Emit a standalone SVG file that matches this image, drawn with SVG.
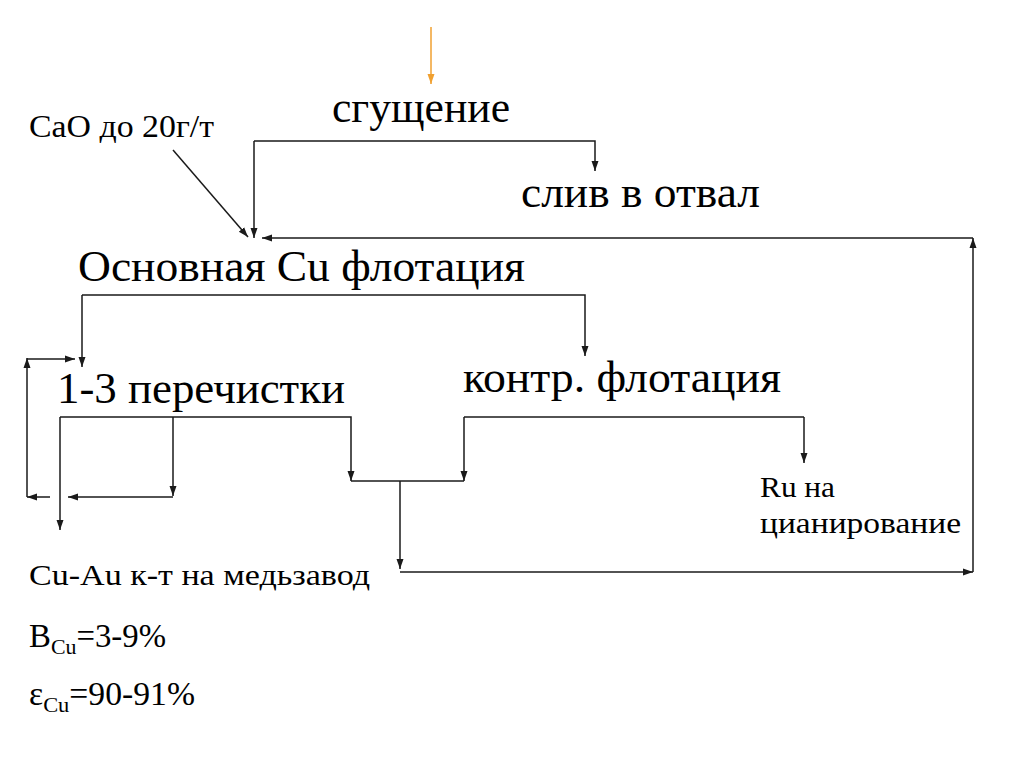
<svg xmlns="http://www.w3.org/2000/svg" width="1024" height="767" viewBox="0 0 1024 767">
<style>
.t{font-family:"Liberation Serif","Times New Roman",serif;fill:#000}
.big{font-size:44px}
.mid{font-size:30px}
.eq{font-size:33px}
.sm{font-size:32px}
.sub{font-size:22px}
.c{fill:none;stroke:#1a1a1a;stroke-width:1.5}
</style>
<defs>
<marker id="ah" markerUnits="userSpaceOnUse" markerWidth="10" markerHeight="10" viewBox="0 0 10 10" refX="10" refY="5" orient="auto">
<path d="M0,1.5 L10,5 L0,8.5 Z" fill="#1a1a1a"/>
</marker>
<marker id="ao" markerUnits="userSpaceOnUse" markerWidth="10" markerHeight="10" viewBox="0 0 10 10" refX="10" refY="5" orient="auto">
<path d="M0,1.5 L10,5 L0,8.5 Z" fill="#f0a030"/>
</marker>
</defs>
<rect width="1024" height="767" fill="#fff"/>

<g id="connectors">
<line x1="431" y1="27" x2="431" y2="84" stroke="#f0a030" stroke-width="1.5" marker-end="url(#ao)"/>
<polyline class="c" points="254,141 595,141 595,171" marker-end="url(#ah)"/>
<line class="c" x1="254" y1="141" x2="254" y2="238" marker-end="url(#ah)"/>
<line class="c" x1="173" y1="150" x2="248" y2="237" marker-end="url(#ah)"/>
<polyline class="c" points="400,572 973,572" marker-end="url(#ah)"/>
<polyline class="c" points="973,572 973,238" marker-end="url(#ah)"/>
<polyline class="c" points="973,238 262,238" marker-end="url(#ah)"/>
<polyline class="c" points="82,295 585,295 585,356" marker-end="url(#ah)"/>
<line class="c" x1="82" y1="295" x2="82" y2="367" marker-end="url(#ah)"/>
<line class="c" x1="50" y1="497" x2="27" y2="497" marker-end="url(#ah)"/>
<line class="c" x1="27" y1="497" x2="27" y2="358" marker-end="url(#ah)"/>
<line class="c" x1="27" y1="359" x2="75" y2="359" marker-end="url(#ah)"/>
<polyline class="c" points="60,417 351,417 351,481" marker-end="url(#ah)"/>
<line class="c" x1="60" y1="417" x2="60" y2="530" marker-end="url(#ah)"/>
<line class="c" x1="173" y1="417" x2="173" y2="496" marker-end="url(#ah)"/>
<line class="c" x1="173" y1="497" x2="68" y2="497" marker-end="url(#ah)"/>
<line class="c" x1="351" y1="481" x2="464" y2="481"/>
<line class="c" x1="464" y1="417" x2="464" y2="481" marker-end="url(#ah)"/>
<line class="c" x1="464" y1="417" x2="804" y2="417"/>
<line class="c" x1="804" y1="417" x2="804" y2="463" marker-end="url(#ah)"/>
<line class="c" x1="400" y1="481" x2="400" y2="569" marker-end="url(#ah)"/>
</g>

<g id="n-sgushchenie"><text class="t big" x="332" y="122" textLength="178" lengthAdjust="spacingAndGlyphs">сгущение</text></g>
<g id="n-cao"><text class="t sm" x="29" y="137" textLength="185" lengthAdjust="spacingAndGlyphs">CaO до 20г/т</text></g>
<g id="n-sliv"><text class="t big" x="521" y="207" textLength="239" lengthAdjust="spacingAndGlyphs">слив в отвал</text></g>
<g id="n-osnovnaya"><text class="t big" x="78" y="281" textLength="447" lengthAdjust="spacingAndGlyphs">Основная Cu флотация</text></g>
<g id="n-perechistki"><text class="t big" x="57" y="403" textLength="288" lengthAdjust="spacingAndGlyphs">1-3 перечистки</text></g>
<g id="n-kontr"><text class="t big" x="463" y="392" textLength="318" lengthAdjust="spacingAndGlyphs">контр. флотация</text></g>
<g id="n-ru"><text class="t mid" x="760" y="497" textLength="75" lengthAdjust="spacingAndGlyphs">Ru на</text><text class="t mid" x="760" y="533" textLength="201" lengthAdjust="spacingAndGlyphs">цианирование</text></g>
<g id="n-cuau">
<text class="t mid" x="29" y="585" textLength="341" lengthAdjust="spacingAndGlyphs">Cu-Au  к-т на медьзавод</text>
<text class="t eq" x="29" y="647" textLength="137" lengthAdjust="spacingAndGlyphs">B<tspan class="sub" dy="7">Cu</tspan><tspan dy="-7">=3-9%</tspan></text>
<text class="t eq" x="29" y="705" textLength="166" lengthAdjust="spacingAndGlyphs">ε<tspan class="sub" dy="7">Cu</tspan><tspan dy="-7">=90-91%</tspan></text>
</g>
</svg>
